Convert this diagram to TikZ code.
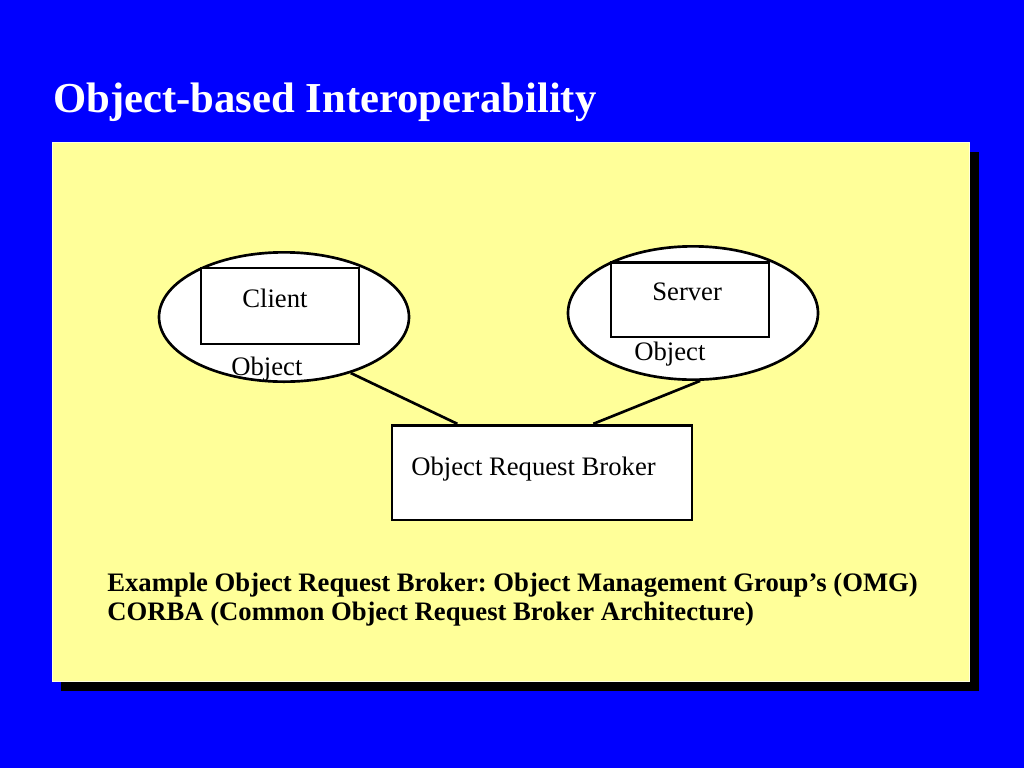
\documentclass[tikz,border=0pt]{standalone}
\usepackage{fontspec}
\setmainfont{Liberation Serif}
\usepackage{tikz}
\usetikzlibrary{shapes.geometric}
\frenchspacing
\definecolor{slideblue}{RGB}{0,0,255}
\definecolor{panelyellow}{RGB}{255,255,153}
\tikzset{every node/.style={inner sep=0pt},
  objoval/.style={ellipse, draw, fill=white, line width=2pt, minimum width=187.5pt, minimum height=97pt},
  objbox/.style={rectangle, draw, fill=white, line width=2pt},
  lbl/.style={anchor=base west, font=\fontsize{20}{24}\selectfont},
  note/.style={anchor=base west, font=\bfseries\fontsize{20}{24}\selectfont}}

\begin{document}
\begin{tikzpicture}[x=0.75pt, y=-0.75pt, line width=2pt]
            \useasboundingbox (0,0) rectangle (1024,768);
            \fill[slideblue] (0,0) rectangle (1024,768);
            % panel with its shadow
            \fill[black] (61,152) rectangle (979,691);
            \filldraw[fill=panelyellow, draw=white!70!panelyellow, line width=0.75pt] (52,142) rectangle (969,681);
            \node [anchor=base west, text=white, font=\bfseries\fontsize{32}{38}\selectfont] (title) at (52,112) {Object-based Interoperability};
            % client and server objects
            \node [objoval] (client) at (284,317) {};
            \node [objbox, minimum width=118.5pt, minimum height=57pt] (clientbox) at (280,306) {};
            \node [lbl] (clientlbl) at (241,307) {Client};
            \node [lbl] (clientobj) at (230,375) {Object};
            \node [objoval, minimum height=100pt] (server) at (693,313) {};
            \node [objbox, minimum width=118.5pt, minimum height=56pt] (serverbox) at (690,299.5) {};
            \node [lbl] (serverlbl) at (651,300) {Server};
            \node [lbl] (serverobj) at (633,360) {Object};
            % broker
            \node [objbox, minimum width=225pt, minimum height=71pt] (orb) at (542,472.5) {};
            \node [lbl] (orblbl) at (410,475) {Object Request Broker};
            \path (client.-40) edge ([xshift=50pt]orb.north west)
                (server.-84) edge ([xshift=152pt]orb.north west);
            \node [note] (note1) at (106,591) {Example Object Request Broker: Object Management Group’s (OMG)};
            \node [note] (note2) at (106,620) {CORBA (Common Object Request Broker Architecture)};
        \end{tikzpicture}
\end{document}
